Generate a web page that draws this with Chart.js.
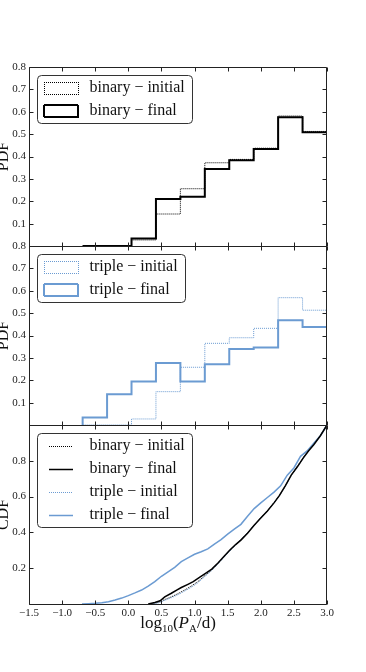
<!DOCTYPE html>
<html>
<head>
<meta charset="utf-8">
<script src="https://cdn.jsdelivr.net/npm/chart.js@4.4.1/dist/chart.umd.min.js"></script>
<style>
    html, body { margin: 0; padding: 0; background: #fff; }
    #wrap { position: relative; width: 366px; height: 672px; }
</style>
</head>
<body>
<div id="wrap"><canvas id="canvas"></canvas></div>
<script>
"use strict"

/* Histogram bins (log10 P_A / d) and densities */
let binEdges = [-0.69, -0.321, 0.048, 0.417, 0.786, 1.155, 1.524, 1.893, 2.262, 2.631, 3.0];
let binaryInitial = [0, 0, 0.027, 0.143, 0.256, 0.372, 0.387, 0.437, 0.581, 0.512];
let binaryFinal   = [0, 0, 0.034, 0.210, 0.220, 0.344, 0.383, 0.434, 0.575, 0.508];
let tripleInitial = [0, 0, 0.027, 0.149, 0.258, 0.365, 0.390, 0.432, 0.569, 0.513];
let tripleFinal   = [0.033, 0.137, 0.194, 0.277, 0.194, 0.271, 0.340, 0.346, 0.468, 0.438];

/* CDF curves */
let cdfBinaryInitialX = [0.32, 0.45, 0.55, 0.65, 0.75, 0.85, 0.95, 1.05, 1.16, 1.26, 1.35, 1.45, 1.53, 1.62, 1.70, 1.80, 1.90, 2.00, 2.10, 2.20, 2.28, 2.37, 2.46, 2.55, 2.64, 2.72, 2.80, 2.90, 3.00];
let cdfBinaryInitialY = [0, 0.008, 0.025, 0.040, 0.058, 0.078, 0.100, 0.125, 0.160, 0.190, 0.225, 0.265, 0.296, 0.330, 0.360, 0.398, 0.440, 0.482, 0.520, 0.567, 0.605, 0.660, 0.720, 0.768, 0.818, 0.857, 0.893, 0.942, 1.0];
let cdfBinaryFinalX = [0.30, 0.40, 0.48, 0.55, 0.65, 0.73, 0.80, 0.90, 0.98, 1.08, 1.16, 1.26, 1.35, 1.45, 1.53, 1.62, 1.70, 1.80, 1.90, 2.00, 2.10, 2.20, 2.28, 2.37, 2.46, 2.55, 2.64, 2.72, 2.80, 2.90, 3.00];
let cdfBinaryFinalY = [0, 0.008, 0.018, 0.040, 0.060, 0.078, 0.092, 0.110, 0.125, 0.150, 0.170, 0.195, 0.228, 0.268, 0.300, 0.332, 0.357, 0.395, 0.440, 0.480, 0.520, 0.565, 0.605, 0.660, 0.720, 0.765, 0.815, 0.855, 0.890, 0.940, 1.0];
let cdfTripleInitialX = [0.33, 0.45, 0.55, 0.65, 0.75, 0.85, 0.95, 1.05, 1.16, 1.26, 1.35, 1.45, 1.53, 1.62, 1.70, 1.80, 1.90, 2.00, 2.10, 2.20, 2.28, 2.37, 2.46, 2.55, 2.64, 2.72, 2.80, 2.90, 3.00];
let cdfTripleInitialY = [0, 0.006, 0.020, 0.035, 0.052, 0.072, 0.093, 0.118, 0.155, 0.187, 0.222, 0.263, 0.295, 0.330, 0.360, 0.398, 0.440, 0.482, 0.520, 0.567, 0.603, 0.658, 0.718, 0.765, 0.812, 0.855, 0.892, 0.940, 1.0];
let cdfTripleFinalX = [-0.70, -0.60, -0.50, -0.40, -0.30, -0.20, -0.10, 0.00, 0.10, 0.20, 0.30, 0.40, 0.50, 0.60, 0.70, 0.80, 0.90, 1.00, 1.10, 1.20, 1.30, 1.40, 1.50, 1.60, 1.70, 1.80, 1.90, 2.00, 2.10, 2.20, 2.30, 2.40, 2.50, 2.60, 2.70, 2.80, 2.90, 3.00];
let cdfTripleFinalY = [0, 0.002, 0.004, 0.007, 0.013, 0.022, 0.033, 0.047, 0.062, 0.078, 0.100, 0.125, 0.155, 0.180, 0.205, 0.237, 0.258, 0.278, 0.292, 0.308, 0.335, 0.360, 0.390, 0.418, 0.445, 0.490, 0.533, 0.565, 0.595, 0.625, 0.660, 0.720, 0.760, 0.825, 0.855, 0.898, 0.940, 1.0];

/* Ticks and labels */
let xTicks = [-1.5, -1.0, -0.5, 0.0, 0.5, 1.0, 1.5, 2.0, 2.5, 3.0];
let pdfTicks = [0, 0.1, 0.2, 0.3, 0.4, 0.5, 0.6, 0.7, 0.8];
let cdfTicks = [0, 0.2, 0.4, 0.6, 0.8, 1.0];
let panelTitles = ["PDF", "PDF", "CDF"];
let seriesLabels = ["binary \u2212 initial", "binary \u2212 final", "triple \u2212 initial", "triple \u2212 final"];


/* Colors */
let black = "#000000";
let blue = "#6b9bd2";
let frameColor = "#222222";
let serif = "'Liberation Serif', 'DejaVu Serif', serif";


function stepPoints(edges, values) {
    let pts = [{ x: edges[0], y: 0 }];
    values.forEach((v, i) => pts.push({ x: edges[i], y: v }));
    let last = edges[edges.length - 1];
    pts.push({ x: last, y: values[values.length - 1] });
    pts.push({ x: last, y: 0 });
    return pts;
}

function curvePoints(xs, ys) {
    return xs.map((x, i) => ({ x: x, y: ys[i] }));
}

function fmt(v) {
    return v.toFixed(1).replace("-", "\u2212");
}

function yAxis(ticks, max, weight, hideTop) {
    return {
        type: "linear",
        position: "left",
        stack: "panels",
        stackWeight: 1,
        weight: weight,
        min: 0,
        max: max,
        afterBuildTicks: s => { s.ticks = ticks.map(v => ({ value: v })); },
        afterFit: s => { s.width = 29; },
        grid: { display: false, drawTicks: false },
        border: { display: false },
        ticks: {
            padding: 3,
            autoSkip: false,
            color: "#222",
            font: { family: serif, size: 11 },
            callback: v => (v === 0 || (hideTop && v === max)) ? "" : v.toFixed(1)
        }
    };
}


/* Frames, inward ticks, axis titles */
let framePlugin = {
    id: "frames",
    afterDatasetsDraw(chart) {
        const ctx = chart.ctx;
        const area = chart.chartArea;
        const xs = chart.scales.x;
        ctx.save();
        ctx.strokeStyle = frameColor;
        ctx.lineWidth = 1;
        ["y1", "y2", "y3"].forEach((id, k) => {
            const s = chart.scales[id];
            const top = Math.round(s.top) + 0.5;
            const bottom = Math.round(s.bottom) + 0.5;
            const left = Math.round(area.left) + 0.5;
            const right = Math.round(area.right) - 0.5;
            ctx.beginPath();
            ctx.rect(left, top, right - left, bottom - top);
            xs.ticks.forEach(t => {
                const px = Math.round(xs.getPixelForValue(t.value)) + 0.5;
                ctx.moveTo(px, top); ctx.lineTo(px, top + 4);
                ctx.moveTo(px, bottom); ctx.lineTo(px, bottom - 4);
            });
            s.ticks.forEach(t => {
                const py = Math.round(s.getPixelForValue(t.value)) + 0.5;
                ctx.moveTo(left, py); ctx.lineTo(left + 4, py);
                ctx.moveTo(right, py); ctx.lineTo(right - 4, py);
            });
            ctx.stroke();

            // rotated panel title
            ctx.save();
            ctx.fillStyle = "#111";
            ctx.font = "16px " + serif;
            ctx.textAlign = "center";
            ctx.textBaseline = "alphabetic";
            ctx.translate(7.5, (s.top + s.bottom) / 2);
            ctx.rotate(-Math.PI / 2);
            ctx.fillText(panelTitles[k], 0, 0);
            ctx.restore();
        });

        // x axis title: log10(P_A/d)
        const big = "17px " + serif;
        const bigIt = "italic 17px " + serif;
        const small = "11px " + serif;
        const parts = [
            { t: "log", f: big, dy: 0 },
            { t: "10", f: small, dy: 4 },
            { t: "(", f: big, dy: 0 },
            { t: "P", f: bigIt, dy: 0 },
            { t: "A", f: small, dy: 4 },
            { t: "/d)", f: big, dy: 0 }
        ];
        let total = 0;
        parts.forEach(p => { ctx.font = p.f; p.w = ctx.measureText(p.t).width; total += p.w; });
        let x = (area.left + area.right) / 2 - total / 2;
        const base = 628;
        ctx.fillStyle = "#111";
        ctx.textAlign = "left";
        ctx.textBaseline = "alphabetic";
        parts.forEach(p => {
            ctx.font = p.f;
            ctx.fillText(p.t, x, base + p.dy);
            x += p.w;
        });
        ctx.restore();
    }
};


/* Legends drawn inside each panel */
let legendPlugin = {
    id: "panelLegends",
    afterDraw(chart) {
        const ctx = chart.ctx;
        const area = chart.chartArea;
        const groups = [
            { scale: "y1", items: [0, 1], kind: "patch" },
            { scale: "y2", items: [2, 3], kind: "patch" },
            { scale: "y3", items: [4, 5, 6, 7], kind: "line" }
        ];
        ctx.save();
        ctx.font = "16px " + serif;
        groups.forEach(g => {
            const s = chart.scales[g.scale];
            const bx = Math.round(area.left) + 8.5;
            const by = Math.round(s.top) + 8.5;
            let maxW = 0;
            g.items.forEach(i => { maxW = Math.max(maxW, ctx.measureText(chart.data.datasets[i].label).width); });
            const bw = Math.round(52 + maxW + 8);
            const bh = 25 + 23 * (g.items.length - 1);
            const r = 4;

            ctx.beginPath();
            ctx.moveTo(bx + r, by);
            ctx.arcTo(bx + bw, by, bx + bw, by + bh, r);
            ctx.arcTo(bx + bw, by + bh, bx, by + bh, r);
            ctx.arcTo(bx, by + bh, bx, by, r);
            ctx.arcTo(bx, by, bx + bw, by, r);
            ctx.closePath();
            ctx.fillStyle = "#fff";
            ctx.fill();
            ctx.strokeStyle = "#333";
            ctx.lineWidth = 1;
            ctx.setLineDash([]);
            ctx.stroke();

            g.items.forEach((i, row) => {
                const ds = chart.data.datasets[i];
                const cy = Math.round(by + 12 + 23 * row);
                const x0 = Math.round(bx) + 6;
                ctx.strokeStyle = ds.borderColor;
                ctx.lineWidth = ds.borderWidth;
                ctx.setLineDash(ds.borderDash || []);
                ctx.beginPath();
                if (g.kind === "patch") {
                    const off = ds.borderWidth % 2 ? 0.5 : 0;
                    const x1 = x0 + 34, y0 = cy - 6, y1 = cy + 6;
                    ctx.moveTo(x0, y0 + off); ctx.lineTo(x1, y0 + off);
                    ctx.moveTo(x0, y1 + off); ctx.lineTo(x1, y1 + off);
                    ctx.moveTo(x0 + off, y0); ctx.lineTo(x0 + off, y1);
                    ctx.moveTo(x1 + off, y0); ctx.lineTo(x1 + off, y1 + 1);
                } else {
                    ctx.moveTo(x0 + 5, cy + 0.5);
                    ctx.lineTo(x0 + 29, cy + 0.5);
                }
                ctx.stroke();
                ctx.setLineDash([]);
                ctx.fillStyle = "#111";
                ctx.textAlign = "left";
                ctx.textBaseline = "middle";
                ctx.fillText(ds.label, bx + 52, cy);
            });
        });
        ctx.restore();
    }
};


function createChart() {
    const canvas = document.getElementById("canvas").getContext("2d");
    const dotted = [1, 1];
    new Chart(canvas, {
        type: "line",
        data: {
            datasets: [
                { label: seriesLabels[0], data: stepPoints(binEdges, binaryInitial), yAxisID: "y1", stepped: "before", borderColor: black, borderWidth: 1, borderDash: dotted, order: 2 },
                { label: seriesLabels[1], data: stepPoints(binEdges, binaryFinal), yAxisID: "y1", stepped: "before", borderColor: black, borderWidth: 2, order: 1 },
                { label: seriesLabels[2], data: stepPoints(binEdges, tripleInitial), yAxisID: "y2", stepped: "before", borderColor: blue, borderWidth: 1, borderDash: dotted, order: 2 },
                { label: seriesLabels[3], data: stepPoints(binEdges, tripleFinal), yAxisID: "y2", stepped: "before", borderColor: blue, borderWidth: 2, order: 1 },
                { label: seriesLabels[0], data: curvePoints(cdfBinaryInitialX, cdfBinaryInitialY), yAxisID: "y3", borderColor: black, borderWidth: 1, borderDash: dotted, order: 3 },
                { label: seriesLabels[1], data: curvePoints(cdfBinaryFinalX, cdfBinaryFinalY), yAxisID: "y3", borderColor: black, borderWidth: 1.5, order: 1 },
                { label: seriesLabels[2], data: curvePoints(cdfTripleInitialX, cdfTripleInitialY), yAxisID: "y3", borderColor: blue, borderWidth: 1, borderDash: dotted, order: 2 },
                { label: seriesLabels[3], data: curvePoints(cdfTripleFinalX, cdfTripleFinalY), yAxisID: "y3", borderColor: blue, borderWidth: 1.5, order: 1 }
            ]
        },
        options: {
            animation: false,
            responsive: true,
            maintainAspectRatio: false,
            layout: { padding: { left: 0, right: 39, top: 67, bottom: 48 } },
            elements: {
                point: { radius: 0, hoverRadius: 0 },
                line: { tension: 0, fill: false }
            },
            plugins: {
                legend: { display: false },
                tooltip: { enabled: false }
            },
            scales: {
                x: {
                    type: "linear",
                    min: -1.5,
                    max: 3.0,
                    afterBuildTicks: s => { s.ticks = xTicks.map(v => ({ value: v })); },
                    afterFit: s => { s.height = 20; },
                    grid: { display: false, drawTicks: false },
                    border: { display: false },
                    ticks: {
                        padding: 3,
                        maxRotation: 0,
                        autoSkip: false,
                        color: "#222",
                        font: { family: serif, size: 11 },
                        callback: v => fmt(v)
                    }
                },
                y1: yAxis(pdfTicks, 0.8, 3, false),
                y2: yAxis(pdfTicks, 0.8, 2, false),
                y3: yAxis(cdfTicks, 1.0, 1, true)
            }
        },
        plugins: [framePlugin, legendPlugin]
    });
}

createChart();
</script>
</body>
</html>
